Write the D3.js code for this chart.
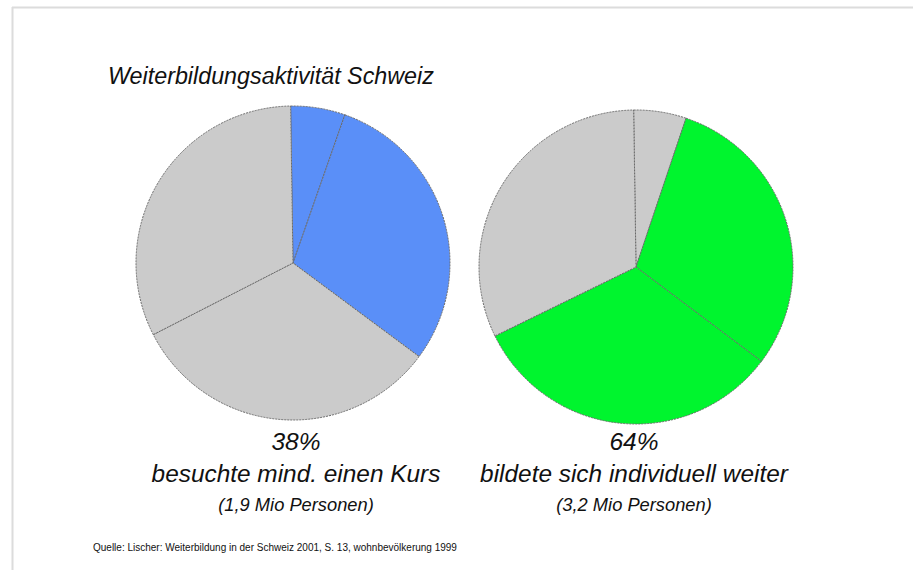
<!DOCTYPE html>
<html>
<head>
<meta charset="utf-8">
<script src="https://cdn.jsdelivr.net/npm/d3@7"></script>
<style>
  body { margin: 0; background: #fff; }
  text { font-family: "Liberation Sans", Arial, sans-serif; font-style: italic; fill: #111; }
</style>
</head>
<body>
<script>
// data
const title = "Weiterbildungsaktivität Schweiz";
const source = "Quelle: Lischer: Weiterbildung in der Schweiz 2001, S. 13, wohnbevölkerung 1999";

const percentLabels = ["38%", "64%"];
const descLabels = ["besuchte mind. einen Kurs", "bildete sich individuell weiter"];
const personLabels = ["(1,9 Mio Personen)", "(3,2 Mio Personen)"];

// slice shares (clockwise from 12 o'clock) and which are highlighted
const kursSlices = [5.6, 29.8, 32.3, 32.3];
const kursGroups = ["aktiv", "aktiv", "rest", "rest"];
const individuellSlices = [5.4, 30.1, 32.5, 32.0];
const individuellGroups = ["rest", "aktiv", "aktiv", "rest"];

let width = 913, height = 570;
let svg = null;

const fills = [
  d3.scaleOrdinal().domain(["aktiv", "rest"]).range(["#5a8ff8", "#cbcbcb"]),
  d3.scaleOrdinal().domain(["aktiv", "rest"]).range(["#00f52e", "#cbcbcb"])
];

const pies = [
  { slices: kursSlices, groups: kursGroups, cx: 293, cy: 263, labelX: 296 },
  { slices: individuellSlices, groups: individuellGroups, cx: 636, cy: 267, labelX: 634 }
];

appendSvg("body");
appendFrame();
appendTitle();
pies.forEach((p, i) => drawPie(p, i));
appendLabels();
appendSource();

function appendSvg(domElement) {
  svg = d3.select(domElement).append("svg")
    .attr("width", width)
    .attr("height", height);
}

function appendFrame() {
  svg.append("line")
    .attr("x1", 12).attr("x2", width)
    .attr("y1", 7.5).attr("y2", 7.5)
    .style("stroke", "#dcdcdc").style("stroke-width", 2);
  svg.append("line")
    .attr("x1", 12.5).attr("x2", 12.5)
    .attr("y1", 7).attr("y2", height)
    .style("stroke", "#dcdcdc").style("stroke-width", 2);
}

function appendTitle() {
  svg.append("text")
    .attr("x", 108)
    .attr("y", 84)
    .style("font-size", "23.3px")
    .text(title);
}

function drawPie(p, idx) {
  const radius = 157;
  const pie = d3.pie().sort(null).startAngle(-0.015).endAngle(2 * Math.PI - 0.015);
  const arc = d3.arc().innerRadius(0).outerRadius(radius);

  const g = svg.append("g")
    .attr("transform", `translate(${p.cx}, ${p.cy})`);

  g.selectAll("path")
    .data(pie(p.slices))
    .enter().append("path")
    .attr("d", arc)
    .style("fill", (d, i) => fills[idx](p.groups[i]))
    .style("stroke", "#6a6a6a")
    .style("stroke-width", 1)
    .style("stroke-dasharray", "2,1")
    .style("stroke-linejoin", "round");
}

function appendLabels() {
  pies.forEach((p, i) => {
    svg.append("text")
      .attr("x", p.labelX)
      .attr("y", 450)
      .attr("text-anchor", "middle")
      .style("font-size", "24.5px")
      .text(percentLabels[i]);
    svg.append("text")
      .attr("x", p.labelX)
      .attr("y", 482)
      .attr("text-anchor", "middle")
      .style("font-size", "24.4px")
      .text(descLabels[i]);
    svg.append("text")
      .attr("x", p.labelX)
      .attr("y", 511)
      .attr("text-anchor", "middle")
      .style("font-size", "18.3px")
      .text(personLabels[i]);
  });
}

function appendSource() {
  svg.append("text")
    .attr("x", 93)
    .attr("y", 551)
    .style("font-family", "'Liberation Sans Narrow', 'Liberation Sans', Arial, sans-serif")
    .style("font-style", "normal")
    .style("font-size", "10px")
    .text(source);
}
</script>
</body>
</html>
